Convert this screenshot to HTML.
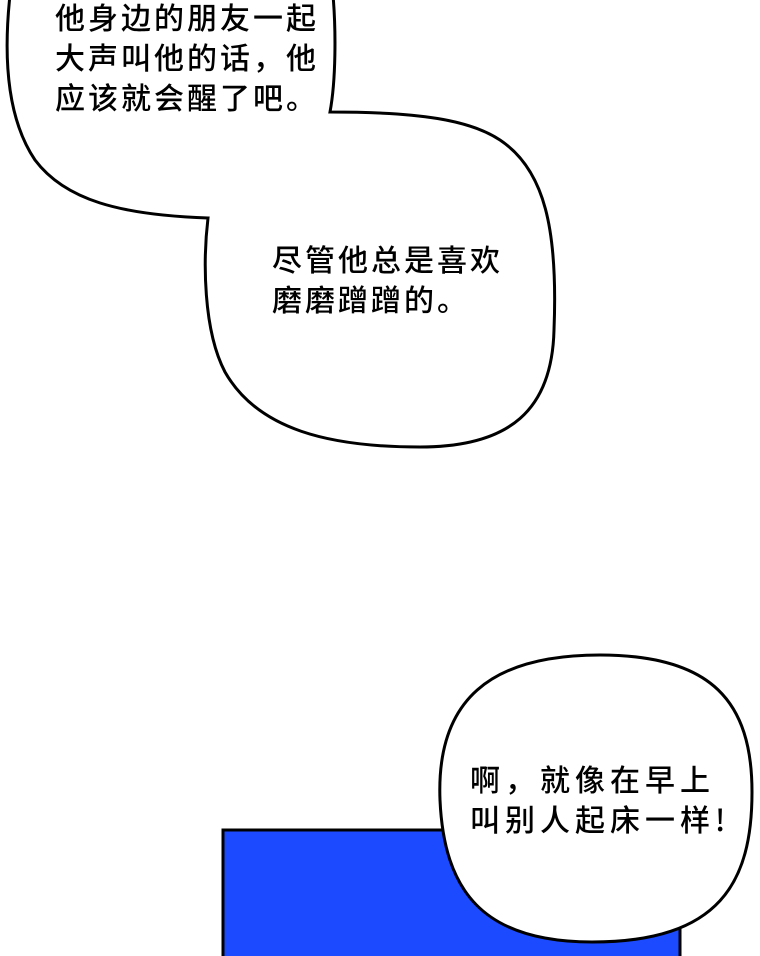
<!DOCTYPE html>
<html><head><meta charset="utf-8"><style>
html,body{margin:0;padding:0;background:#fff;}
body{width:760px;height:956px;position:relative;overflow:hidden;}
.t{position:absolute;font-family:"Noto Sans CJK SC","Liberation Sans",sans-serif;font-weight:500;font-size:30px;line-height:40px;letter-spacing:3px;color:#000;white-space:nowrap;}
</style></head><body>
<svg width="760" height="956" style="position:absolute;left:0;top:0">
<rect x="223" y="830" width="457" height="140" fill="#1c4bff" stroke="#000" stroke-width="3"/>
<path d="M10,-5 C3,60 8,120 35,160 C65,200 120,215 208,218 C203,260 203,330 225,372 C258,430 330,447 420,447 C510,447 552,410 554,330 C558,230 545,170 500,140 C470,120 420,112 330,112 C336,80 336,30 333,-5 Z" fill="#fff" stroke="#000" stroke-width="3"/>
<path d="M440,800 C436,700 490,655 600,655 C712,655 752,702 752,792 C752,882 720,942 592,942 C482,942 444,890 440,800 Z" fill="#fff" stroke="#000" stroke-width="3"/>
</svg>
<div class="t" style="left:55px;top:-4px">他身边的朋友一起<br>大声叫他的话，他<br>应该就会醒了吧。</div>
<div class="t" style="left:272px;top:238px">尽管他总是喜欢<br>磨磨蹭蹭的。</div>
<div class="t" style="left:470px;top:758px;letter-spacing:5px">啊，就像在早上<br>叫别人起床一样!</div>
</body></html>
